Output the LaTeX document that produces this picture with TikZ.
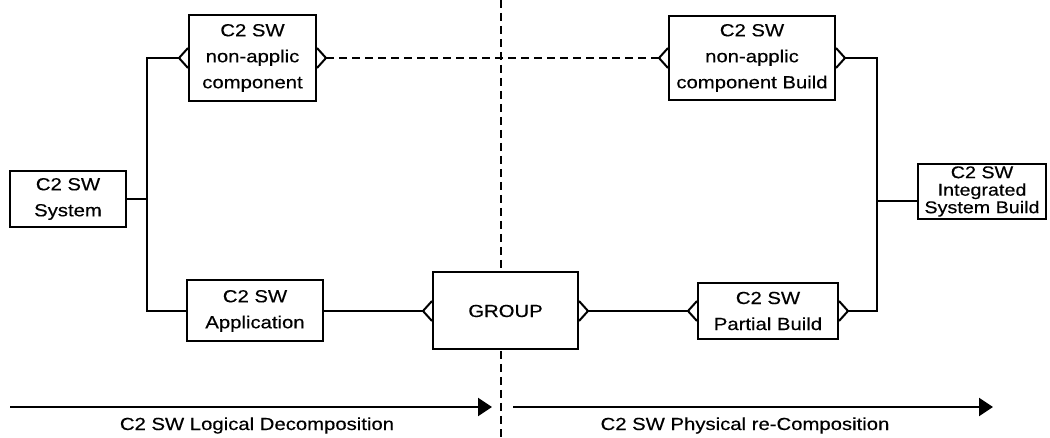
\documentclass[tikz,border=0pt]{standalone}
\usepackage{fontspec}
\setmainfont{Liberation Sans}[FakeStretch=1.16,FakeBold=0.35]
\usetikzlibrary{calc,arrows.meta}
\begin{document}
\begin{tikzpicture}[x=1pt,y=-1pt,
  box/.style={draw,fill=white,line width=2pt,align=center,inner sep=0pt,
    font=\fontsize{17.5}{26}\selectfont},
  link/.style={line width=1.8pt},
  crowleft/.pic={\draw[line width=2pt] (0,-10) -- (-9,0) -- (0,10);},
  crowright/.pic={\draw[line width=2pt] (0,-10) -- (9,0) -- (0,10);},
  phase/.style={line width=2pt,-{Triangle[length=14pt,width=18pt]}},
  phaselabel/.style={anchor=base,inner sep=0pt,font=\fontsize{17.5}{20}\selectfont},
  divider/.style={line width=1.8pt,dash pattern=on 8pt off 5pt},
]
\useasboundingbox (0,0) rectangle (1050,438);

% phase divider (behind the boxes)
\coordinate (divTop) at (501,0);
\coordinate (divBot) at (501,438);
\draw[divider] (divTop) -- (divBot);

% entities
\node[box,minimum width=116pt,minimum height=56pt] (sys) at (68,199) {C2 SW\\System};
\node[box,minimum width=127pt,minimum height=86pt] (nc) at (252.5,58) {C2 SW\\non-applic\\component};
\node[box,minimum width=136pt,minimum height=61pt] (app) at (255,311) {C2 SW\\Application};
\node[box,minimum width=145pt,minimum height=77pt] (grp) at (505.5,311) {GROUP};
\node[box,minimum width=166pt,minimum height=84pt] (ncb) at (752,58) {C2 SW\\non-applic\\component Build};
\node[box,minimum width=140pt,minimum height=56pt] (pb) at (768,311) {C2 SW\\Partial Build};
\node[box,minimum width=128pt,minimum height=55pt,font=\fontsize{17}{17.5}\selectfont]
  (isb) at (982,191.5) {C2 SW\\Integrated\\System Build};

% crow's-foot ends
\foreach \n in {nc,ncb,grp,pb}{
  \pic at (\n.west) {crowleft};
  \pic at (\n.east) {crowright};
}
\coordinate (ncL)  at ($(nc.west)+(-9,0)$);
\coordinate (ncR)  at ($(nc.east)+(9,0)$);
\coordinate (ncbL) at ($(ncb.west)+(-9,0)$);
\coordinate (ncbR) at ($(ncb.east)+(9,0)$);
\coordinate (grpL) at ($(grp.west)+(-9,0)$);
\coordinate (grpR) at ($(grp.east)+(9,0)$);
\coordinate (pbL)  at ($(pb.west)+(-9,0)$);
\coordinate (pbR)  at ($(pb.east)+(9,0)$);
\coordinate (isbIn) at ($(isb.west)+(0,9.5)$);

% buses
\coordinate (lb) at (147,199);
\coordinate (rb) at (877,201);

% connectors
\draw[link] (sys.east) -- (lb);
\draw[link] (app.west) -| (lb) |- (ncL);
\draw[link] (app.east) -- (grpL);
\draw[link] (grpR) -- (pbL);
\draw[link] (pbR) -| (rb) |- (ncbR);
\draw[link] (rb) -- (isbIn);
\draw[divider] (ncR) -- (ncbL);

% phase arrows
\coordinate (la0) at (10,407);
\coordinate (la1) at (492,407);
\coordinate (ra0) at (513,407);
\coordinate (ra1) at (993,407);
\draw[phase] (la0) -- (la1);
\draw[phase] (ra0) -- (ra1);
\node[phaselabel] (ll) at (257,430) {C2 SW Logical Decomposition};
\node[phaselabel] (rl) at (745,430) {C2 SW Physical re-Composition};
\end{tikzpicture}
\end{document}
